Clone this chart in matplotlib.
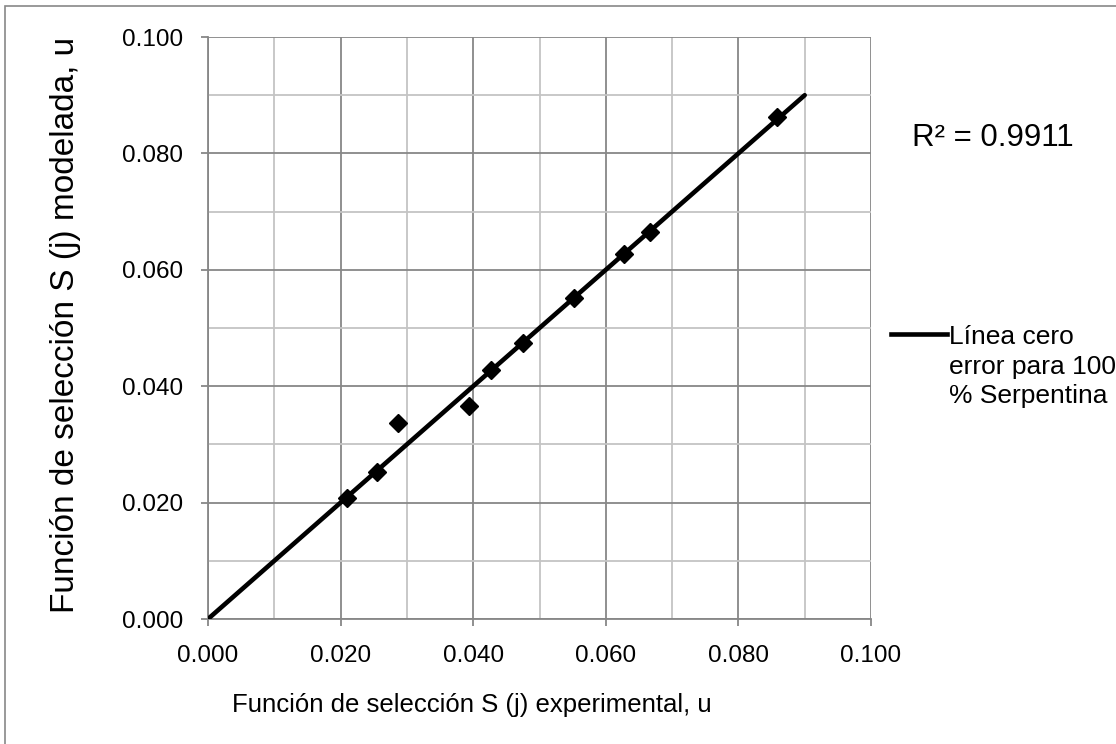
import matplotlib.pyplot as plt
import matplotlib.patches as patches
from matplotlib.lines import Line2D
from matplotlib.ticker import MultipleLocator, FormatStrFormatter

plt.rcParams['font.family'] = ['Liberation Sans', 'DejaVu Sans']

# experimental vs modelled selection function
s_exp = [0.0210, 0.0255, 0.0287, 0.0394, 0.0427, 0.0475, 0.0552, 0.0627, 0.0666, 0.0858]
s_mod = [0.0208, 0.0253, 0.0336, 0.0366, 0.0427, 0.0474, 0.0552, 0.0628, 0.0665, 0.0863]

# zero-error reference line
line_x = [0.0, 0.090]
line_y = [0.0, 0.090]

r2_text = 'R² = 0.9911'
legend_label = 'Línea cero\nerror para 100\n% Serpentina'

W, H = 1116, 744
fig = plt.figure(figsize=(W / 100, H / 100), dpi=100)
ax = fig.add_axes([208 / W, 1 - 619 / H, 663 / W, 582 / H])

ax.plot(s_exp, s_mod, linestyle='none', marker='D', markersize=9,
        color='black', zorder=3)
ax.plot(line_x, line_y, color='black', linewidth=3.3,
        solid_capstyle='round', zorder=4)

ax.set_xlim(0, 0.1)
ax.set_ylim(0, 0.1)
ax.xaxis.set_major_locator(MultipleLocator(0.02))
ax.yaxis.set_major_locator(MultipleLocator(0.02))
ax.xaxis.set_minor_locator(MultipleLocator(0.01))
ax.yaxis.set_minor_locator(MultipleLocator(0.01))
ax.xaxis.set_major_formatter(FormatStrFormatter('%.3f'))
ax.yaxis.set_major_formatter(FormatStrFormatter('%.3f'))

ax.grid(which='major', color='#878787', linewidth=1.3)
ax.grid(which='minor', color='#c4c4c4', linewidth=1.3)
ax.set_axisbelow(True)

for side in ['top', 'right']:
    ax.spines[side].set_visible(False)
for side in ['left', 'bottom']:
    ax.spines[side].set_color('#878787')
    ax.spines[side].set_linewidth(1.3)

ax.tick_params(which='major', direction='out', length=5, width=1.3,
               color='#878787', labelsize=17.5)
ax.tick_params(axis='y', which='major', pad=13)
ax.tick_params(axis='x', which='major', pad=14)
ax.tick_params(which='minor', length=0)

# axis titles
fig.text(472 / W, 1 - 712 / H, 'Función de selección S (j) experimental, u',
         fontsize=18.5, ha='center', va='baseline')
fig.text(66 / W, 1 - 325 / H, 'Función de selección S (j) modelada, u',
         fontsize=24, ha='center', va='center', rotation=90)

fig.text(912 / W, 1 - 138 / H, r2_text, fontsize=22.5, ha='left', va='center')

# legend entry for the zero-error line
fig.add_artist(Line2D([891 / W, 947 / W], [1 - 334 / H, 1 - 334 / H],
                      transform=fig.transFigure, color='black', linewidth=3.3))
fig.text(949 / W, 1 - 325 / H, legend_label, fontsize=19, ha='left',
         va='top', linespacing=1.3)

# outer chart frame
fig.patches.append(patches.Rectangle((0.0049, -0.05), 1.2, 0.9926 + 0.05,
                                     transform=fig.transFigure, fill=False,
                                     edgecolor='#888888', linewidth=1.2))

fig.savefig('out.png', dpi=100)
